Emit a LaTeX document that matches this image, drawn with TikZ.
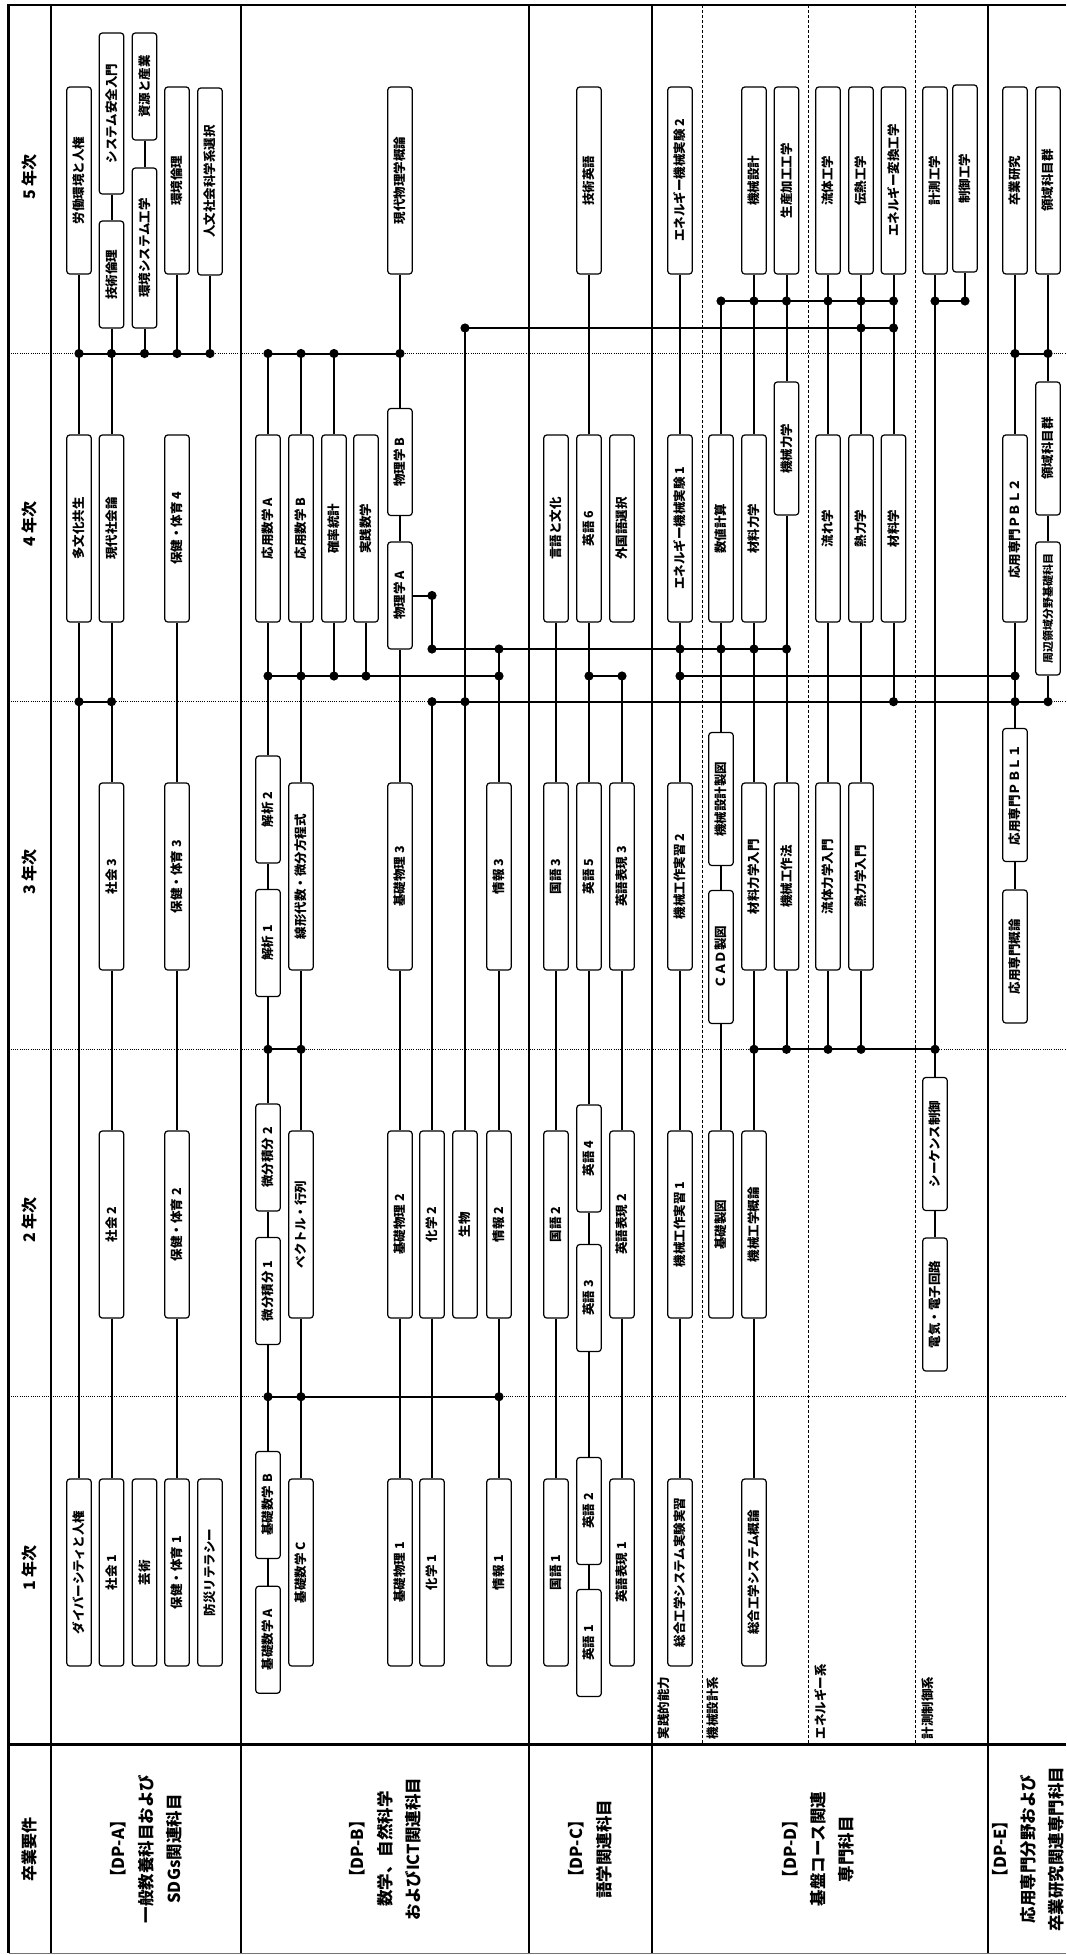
\documentclass[tikz,border=0pt]{standalone}
\usepackage{fontspec}
\setmainfont{Noto Sans CJK JP}
\tikzset{
  subjbox/.style={draw=black, fill=white, line width=1.2pt, rounded corners=3pt,
                  rotate=90, minimum width=187pt, minimum height=24.5pt,
                  inner sep=1pt, font=\fontsize{12.5}{14}\selectfont\bfseries},
  subjmid/.style={subjbox, minimum width=133pt},
  subjshort/.style={subjbox, minimum width=107pt},
  link/.style={line width=2pt},
  frameline/.style={line width=2.8pt},
  yearline/.style={line width=0.9pt, dash pattern=on 1pt off 1.2pt},
  groupline/.style={line width=0.9pt, dash pattern=on 3pt off 2pt},
  yearhead/.style={rotate=90, inner sep=1pt, font=\fontsize{16}{18}\selectfont\bfseries},
  dplabel/.style={rotate=90, align=center, inner sep=1pt,
                  font=\fontsize{16.5}{28}\selectfont\bfseries},
  grouplabel/.style={rotate=90, anchor=north west, inner sep=1.5pt,
                     font=\fontsize{12.5}{14}\selectfont\bfseries}
}

\begin{document}
\begin{tikzpicture}[x=1pt,y=-1pt]
  \path[use as bounding box,fill=white] (0,0) rectangle (1066,1955);

  % Table grid
  \foreach \y in {353.5,701.7,1049.3,1396.7}
    \draw[yearline] (8.5,\y) -- (1066,\y);
  \foreach \x in {702,808.5,915.6}
    \draw[groupline] (\x,5) -- (\x,1744.3);
  \foreach \x in {8.5,51,241,529,652,988}
    \draw[frameline] (\x,5) -- (\x,1953);
  \draw[frameline] (7.1,5) -- (1066,5);
  \draw[frameline] (8.5,1744.3) -- (1066,1744.3);
  \draw[line width=1pt,black!55] (8.5,1953.5) -- (1066,1953.5);

  % Bus levels
  \coordinate (r301) at (0,301);
  \coordinate (r328) at (0,328);
  \coordinate (h54) at (0,353.5);
  \coordinate (r649) at (0,649);
  \coordinate (r676) at (0,676);
  \coordinate (h43) at (0,701.7);
  \coordinate (h32) at (0,1049.3);
  \coordinate (h21) at (0,1396.7);

  % Headers
  \node[yearhead] (yr5) at (29,177) {5 年次};
  \node[yearhead] (yr4) at (29,524) {4 年次};
  \node[yearhead] (yr3) at (29,872) {3 年次};
  \node[yearhead] (yr2) at (29,1220) {2 年次};
  \node[yearhead] (yr1) at (29,1568) {1 年次};
  \node[yearhead] (req) at (29,1849) {卒業要件};

  \node[dplabel] (dpa) at (146,1849) {【DP-A】\\一般教養科目および\\SDGs関連科目};
  \node[dplabel] (dpb) at (385,1849) {【DP-B】\\数学、自然科学\\およびICT関連科目};
  \node[dplabel] (dpc) at (590,1849) {【DP-C】\\語学関連科目};
  \node[dplabel] (dpd) at (818,1849) {【DP-D】\\基盤コース関連\\専門科目};
  \node[dplabel] (dpe) at (1028,1849) {【DP-E】\\応用専門分野および\\卒業研究関連専門科目};

  \node[grouplabel] (g1) at (656,1741) {実践的能力};
  \node[grouplabel] (g2) at (705.5,1741) {機械設計系};
  \node[grouplabel] (g3) at (813,1741) {エネルギー系};
  \node[grouplabel] (g4) at (920,1741) {計測制御系};

  % DP-A
  \node[subjbox] (a51) at (79,180.5) {労働環境と人権};
  \node[subjbox,minimum width=161pt] (a52) at (111.5,113.5) {システム安全入門};
  \node[subjshort] (a53) at (111.5,274.5) {技術倫理};
  \node[subjshort] (a54) at (144.5,86.5) {資源と産業};
  \node[subjbox,minimum width=160pt] (a55) at (144.5,248) {環境システム工学};
  \node[subjbox] (a56) at (177,180.5) {環境倫理};
  \node[subjbox] (a57) at (210,181.5) {人文社会科学系選択};
  \node[subjbox] (a41) at (79,528.5) {多文化共生};
  \node[subjbox] (a42) at (111.5,528.5) {現代社会論};
  \node[subjbox] (a43) at (177,528.5) {保健・体育 4};
  \node[subjbox] (a31) at (111.5,876.5) {社会 3};
  \node[subjbox] (a32) at (177,876.5) {保健・体育 3};
  \node[subjbox] (a21) at (111.5,1224.5) {社会 2};
  \node[subjbox] (a22) at (177,1224.5) {保健・体育 2};
  \node[subjbox] (a11) at (79,1572.5) {ダイバーシティと人権};
  \node[subjbox] (a12) at (111.5,1572.5) {社会 1};
  \node[subjbox] (a13) at (144.5,1572.5) {芸術};
  \node[subjbox] (a14) at (177,1572.5) {保健・体育 1};
  \node[subjbox] (a15) at (210,1572.5) {防災リテラシー};

  % DP-B
  \node[subjbox] (b51) at (400,180.5) {現代物理学概論};
  \node[subjbox] (b41) at (268,528.5) {応用数学 A};
  \node[subjbox] (b42) at (301,528.5) {応用数学 B};
  \node[subjbox] (b43) at (334,528.5) {確率統計};
  \node[subjbox] (b44) at (366,528.5) {実践数学};
  \node[subjshort] (b45) at (400,462) {物理学 B};
  \node[subjshort] (b46) at (400,595.5) {物理学 A};
  \node[subjshort] (b31) at (268,809.5) {解析 2};
  \node[subjshort] (b32) at (268,943) {解析 1};
  \node[subjbox] (b33) at (301,876.5) {線形代数・微分方程式};
  \node[subjbox] (b34) at (400,876.5) {基礎物理 3};
  \node[subjbox] (b35) at (499,876.5) {情報 3};
  \node[subjshort] (b21) at (268,1157.5) {微分積分 2};
  \node[subjshort] (b22) at (268,1291) {微分積分 1};
  \node[subjbox] (b23) at (301,1224.5) {ベクトル・行列};
  \node[subjbox] (b24) at (400,1224.5) {基礎物理 2};
  \node[subjbox] (b25) at (432,1224.5) {化学 2};
  \node[subjbox] (b26) at (465,1224.5) {生物};
  \node[subjbox] (b27) at (499,1224.5) {情報 2};
  \node[subjshort] (b11) at (268,1505) {基礎数学 B};
  \node[subjshort] (b12) at (268,1639.7) {基礎数学 A};
  \node[subjbox] (b13) at (301,1572.5) {基礎数学 C};
  \node[subjbox] (b14) at (400,1572.5) {基礎物理 1};
  \node[subjbox] (b15) at (432,1572.5) {化学 1};
  \node[subjbox] (b16) at (499,1572.5) {情報 1};

  % DP-C
  \node[subjbox] (c51) at (589,180.5) {技術英語};
  \node[subjbox] (c41) at (556,528.5) {言語と文化};
  \node[subjbox] (c42) at (589,528.5) {英語 6};
  \node[subjbox] (c43) at (622,528.5) {外国語選択};
  \node[subjbox] (c31) at (556,876.5) {国語 3};
  \node[subjbox] (c32) at (589,876.5) {英語 5};
  \node[subjbox] (c33) at (622,876.5) {英語表現 3};
  \node[subjbox] (c21) at (556,1224.5) {国語 2};
  \node[subjshort] (c22) at (589,1158.5) {英語 4};
  \node[subjshort] (c23) at (589,1298) {英語 3};
  \node[subjbox] (c24) at (622,1224.5) {英語表現 2};
  \node[subjbox] (c11) at (556,1572.5) {国語 1};
  \node[subjshort] (c12) at (589,1511) {英語 2};
  \node[subjshort] (c13) at (589,1643) {英語 1};
  \node[subjbox] (c14) at (622,1572.5) {英語表現 1};

  % DP-D
  \node[subjbox] (d51) at (680,180.5) {エネルギー機械実験 2};
  \node[subjbox] (d52) at (754,180.5) {機械設計};
  \node[subjbox] (d53) at (786.5,180.5) {生産加工工学};
  \node[subjbox] (d54) at (828,180.5) {流体工学};
  \node[subjbox] (d55) at (861,180.5) {伝熱工学};
  \node[subjbox] (d56) at (893.5,180.5) {エネルギー変換工学};
  \node[subjbox] (d57) at (935,180.5) {計測工学};
  \node[subjbox] (d58) at (965,178.5) {制御工学};
  \node[subjbox] (d41) at (680,528.5) {エネルギー機械実験 1};
  \node[subjbox] (d42) at (721,528.5) {数値計算};
  \node[subjbox] (d43) at (754,528.5) {材料力学};
  \node[subjmid] (d44) at (786.5,448.5) {機械力学};
  \node[subjbox] (d45) at (828,528.5) {流れ学};
  \node[subjbox] (d46) at (861,528.5) {熱力学};
  \node[subjbox] (d47) at (893.5,528.5) {材料学};
  \node[subjbox] (d31) at (680,876.5) {機械工作実習 2};
  \node[subjmid] (d32) at (721,799) {機械設計製図};
  \node[subjmid] (d33) at (721,957) {ＣＡＤ製図};
  \node[subjbox] (d34) at (754,876.5) {材料力学入門};
  \node[subjbox] (d35) at (786.5,876.5) {機械工作法};
  \node[subjbox] (d36) at (828,876.5) {流体力学入門};
  \node[subjbox] (d37) at (861,876.5) {熱力学入門};
  \node[subjbox] (d21) at (680,1224.5) {機械工作実習 1};
  \node[subjbox] (d22) at (721,1224.5) {基礎製図};
  \node[subjbox] (d23) at (754,1224.5) {機械工学概論};
  \node[subjmid] (d24) at (935,1144) {シーケンス制御};
  \node[subjmid] (d25) at (935,1304.5) {電気・電子回路};
  \node[subjbox] (d11) at (680,1572.5) {総合工学システム実験実習};
  \node[subjbox] (d12) at (754,1572.5) {総合工学システム概論};

  % DP-E
  \node[subjbox] (e51) at (1015,180.5) {卒業研究};
  \node[subjbox] (e52) at (1048,180.5) {領域科目群};
  \node[subjbox] (e41) at (1015,528.5) {応用専門ＰＢＬ２};
  \node[subjmid] (e42) at (1048,448.5) {領域科目群};
  \node[subjmid,font=\fontsize{11}{13}\selectfont\bfseries] (e43) at (1048,608.5) {周辺領域分野基礎科目};
  \node[subjmid] (e31) at (1015,795) {応用専門ＰＢＬ１};
  \node[subjmid] (e32) at (1015,956.5) {応用専門概論};

  % Links DP-A
  \draw[link] (a51.west) -- (a41.east);
  \draw[link] (a52.west) -- (a53.east);
  \draw[link] (a53.west) -- (a42.east);
  \draw[link] (a54.west) -- (a55.east);
  \draw[link] (a55.west) -- (a55.west |- h54);
  \draw[link] (a56.west) -- (a56.west |- h54);
  \draw[link] (a57.west) -- (a57.west |- h54);
  \draw[link] (a51.west |- h54) -- (a57.west |- h54);
  \draw[link] (a41.west) -- (a11.east);
  \draw[link] (a42.west) -- (a31.east);
  \draw[link] (a41.west |- h43) -- (a42.west |- h43);
  \draw[link] (a31.west) -- (a21.east);
  \draw[link] (a21.west) -- (a12.east);
  \draw[link] (a43.west) -- (a32.east);
  \draw[link] (a32.west) -- (a22.east);
  \draw[link] (a22.west) -- (a14.east);

  % Links DP-B
  \draw[link] (b41.center |- h54) -- (b51.west |- h54);
  \draw[link] (b41.center |- h54) -- (b41.east);
  \draw[link] (b42.center |- h54) -- (b42.east);
  \draw[link] (b43.center |- h54) -- (b43.east);
  \draw[link] (b51.west) -- (b45.east);
  \draw[link] (b45.west) -- (b46.east);
  \draw[link] (b46.west) -- (b34.east);
  \draw[link] (b34.west) -- (b24.east);
  \draw[link] (b24.west) -- (b14.east);
  \draw[link] (b46.south) -| (b25.center |- r649);
  \draw[link] (b25.center |- r649) -- (d44.center |- r649);
  \draw[link] (b41.west) -- (b31.east);
  \draw[link] (b42.west) -- (b33.east);
  \draw[link] (b43.west) -- (b43.west |- r676);
  \draw[link] (b44.west) -- (b44.west |- r676);
  \draw[link] (b41.west |- r676) -- (b35.center |- r676);
  \draw[link] (b35.center |- r649) -- (b35.east);
  \draw[link] (b31.west) -- (b32.east);
  \draw[link] (b32.west) -- (b21.east);
  \draw[link] (b21.west) -- (b22.east);
  \draw[link] (b22.west) -- (b11.east);
  \draw[link] (b11.west) -- (b12.east);
  \draw[link] (b33.west) -- (b23.east);
  \draw[link] (b23.west) -- (b13.east);
  \draw[link] (b32.west |- h32) -- (b33.west |- h32);
  \draw[link] (b35.west) -- (b27.east);
  \draw[link] (b27.west) -- (b16.east);
  \draw[link] (b22.west |- h21) -- (b27.west |- h21);
  \draw[link] (b25.center |- h43) -- (b25.east);
  \draw[link] (b25.west) -- (b15.east);
  \draw[link] (b26.center |- r328) -- (b26.east);
  \draw[link] (b26.center |- r328) -- (d56.west |- r328);
  \draw[link] (b25.center |- h43) -- (e43.west |- h43);

  % Links DP-C
  \draw[link] (c51.west) -- (c42.east);
  \draw[link] (c41.west) -- (c31.east);
  \draw[link] (c31.west) -- (c21.east);
  \draw[link] (c21.west) -- (c11.east);
  \draw[link] (c42.west) -- (c32.east);
  \draw[link] (c32.west) -- (c22.east);
  \draw[link] (c22.west) -- (c23.east);
  \draw[link] (c23.west) -- (c12.east);
  \draw[link] (c12.west) -- (c13.east);
  \draw[link] (c42.west |- r676) -- (c43.center |- r676);
  \draw[link] (c43.center |- r676) -- (c33.east);
  \draw[link] (c33.west) -- (c24.east);
  \draw[link] (c24.west) -- (c14.east);

  % Links DP-D
  \draw[link] (d51.west) -- (d41.east);
  \draw[link] (d41.west) -- (d31.east);
  \draw[link] (d31.west) -- (d21.east);
  \draw[link] (d21.west) -- (d11.east);
  \draw[link] (d42.center |- r301) -- (d56.west |- r301);
  \draw[link] (d42.center |- r301) -- (d42.east);
  \draw[link] (d52.west) -- (d43.east);
  \draw[link] (d53.west) -- (d44.east);
  \draw[link] (d54.west) -- (d45.east);
  \draw[link] (d55.west) -- (d46.east);
  \draw[link] (d56.west) -- (d47.east);
  \draw[link] (d57.west |- r301) -- (d58.west |- r301);
  \draw[link] (d58.west) -- (d58.west |- r301);
  \draw[link] (d57.west) -- (d24.east);
  \draw[link] (d24.west) -- (d25.east);
  \draw[link] (d42.west) -- (d32.east);
  \draw[link] (d32.west) -- (d33.east);
  \draw[link] (d33.west) -- (d22.east);
  \draw[link] (d43.west) -- (d34.east);
  \draw[link] (d34.west) -- (d23.east);
  \draw[link] (d23.west) -- (d12.east);
  \draw[link] (d44.west) -- (d35.east);
  \draw[link] (d45.west) -- (d36.east);
  \draw[link] (d46.west) -- (d37.east);
  \draw[link] (d47.west) -- (d47.west |- h43);
  \draw[link] (d35.west) -- (d35.west |- h32);
  \draw[link] (d36.west) -- (d36.west |- h32);
  \draw[link] (d37.west) -- (d37.west |- h32);
  \draw[link] (d34.west |- h32) -- (d57.west |- h32);
  \draw[link] (d41.west |- r676) -- (e41.west |- r676);

  % Links DP-E
  \draw[link] (e51.west) -- (e41.east);
  \draw[link] (e52.west) -- (e42.east);
  \draw[link] (e51.west |- h54) -- (e52.west |- h54);
  \draw[link] (e41.west) -- (e31.east);
  \draw[link] (e31.west) -- (e32.east);
  \draw[link] (e42.west) -- (e43.east);
  \draw[link] (e43.west) -- (e43.west |- h43);

  % Junction dots
  \fill (b46.south -| b25.center) circle (4.6pt);
  \foreach \n/\l in {a51.west/h54, a53.west/h54, a55.west/h54, a56.west/h54, a57.west/h54,
                     b41.center/h54, b42.center/h54, b43.center/h54, b51.west/h54,
                     e51.west/h54, e52.west/h54,
                     b26.center/r328, d55.west/r328, d56.west/r328,
                     d42.center/r301, d52.west/r301, d53.west/r301, d54.west/r301,
                     d55.west/r301, d56.west/r301, d57.west/r301, d58.west/r301,
                     b25.center/r649, b35.center/r649, d41.west/r649, d42.west/r649,
                     d43.west/r649, d44.west/r649,
                     b41.west/r676, b42.west/r676, b43.west/r676, b44.west/r676,
                     b35.center/r676, c42.west/r676, c43.center/r676, d41.west/r676,
                     e41.west/r676,
                     a41.west/h43, a42.west/h43, b25.center/h43, b26.center/h43,
                     d47.west/h43, e41.west/h43, e43.west/h43,
                     b32.west/h32, b33.west/h32, d34.west/h32, d35.west/h32,
                     d36.west/h32, d37.west/h32, d57.west/h32,
                     b22.west/h21, b23.west/h21, b27.west/h21}
    \fill (\n |- \l) circle (4.6pt);
\end{tikzpicture}
\end{document}
